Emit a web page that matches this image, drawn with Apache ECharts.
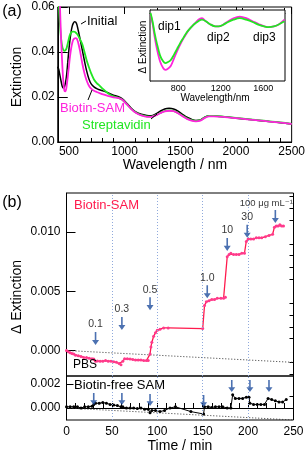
<!DOCTYPE html>
<html><head><meta charset="utf-8">
<script src="https://cdn.jsdelivr.net/npm/echarts@6/dist/echarts.min.js"></script>
<style>html,body{margin:0;padding:0;background:#fff}#c{width:308px;height:454px}</style>
</head><body><div id="c"></div>
<script>
const FONT = '"Liberation Sans", Arial, "DejaVu Sans", sans-serif';
// ---------- Panel (a): extinction spectra ----------
const wavelength = [400,410,420,430,440,450,460,470,480,490,500,510,520,530,540,550,560,570,580,590,600,620,640,660,680,700,725,750,775,800,850,900,940,980,1020,1060,1100,1150,1200,1240,1280,1320,1360,1400,1440,1480,1520,1560,1600,1640,1680,1720,1760,1800,1900,2000,2100,2200,2300,2400,2500];
const extInitial = [0.0335,0.032,0.0295,0.027,0.0248,0.0240,0.0245,0.0265,0.030,0.0355,0.041,0.0455,0.049,0.0515,0.0528,0.0535,0.0533,0.0524,0.0505,0.0482,0.0458,0.041,0.036,0.0315,0.028,0.0258,0.0245,0.0237,0.0232,0.0228,0.0219,0.0208,0.0202,0.0192,0.0172,0.015,0.0134,0.0123,0.0118,0.0117,0.0125,0.0137,0.0147,0.015,0.0147,0.0137,0.0123,0.011,0.0101,0.0096,0.0098,0.011,0.0117,0.0116,0.0112,0.0106,0.0101,0.0096,0.0091,0.0086,0.008];
const extBiotin = [0.09,0.075,0.06,0.046,0.035,0.027,0.0228,0.0225,0.025,0.029,0.0335,0.038,0.0415,0.044,0.0455,0.046,0.0462,0.046,0.0448,0.0428,0.0405,0.035,0.0305,0.0272,0.025,0.0237,0.0228,0.0222,0.0217,0.0213,0.0205,0.0198,0.0196,0.0188,0.0168,0.0146,0.013,0.0118,0.0112,0.0112,0.0118,0.0128,0.0136,0.0139,0.0137,0.0128,0.0115,0.0103,0.0095,0.0092,0.0095,0.0107,0.0114,0.0114,0.0111,0.0106,0.0101,0.0096,0.0091,0.0086,0.008];
const extStrept = [0.075,0.061,0.052,0.046,0.0425,0.041,0.0405,0.0408,0.0418,0.0438,0.046,0.0477,0.0486,0.049,0.0491,0.049,0.0487,0.0482,0.0475,0.0466,0.0456,0.0435,0.040,0.0362,0.0332,0.0305,0.0278,0.0262,0.0251,0.0238,0.0217,0.0203,0.0197,0.0188,0.0168,0.0147,0.0131,0.0119,0.0114,0.0113,0.0119,0.0129,0.0137,0.014,0.0138,0.0129,0.0117,0.0105,0.0097,0.0094,0.0097,0.0109,0.0116,0.0116,0.0112,0.0107,0.0102,0.0097,0.0092,0.0087,0.0081];
const xLabelsA = [500,1000,1500,2000,2500];
const xMinorA = [400,600,700,800,900,1100,1200,1300,1400,1600,1700,1800,1900,2100,2200,2300,2400];
// ---------- Inset: difference spectra ----------
const insetWl = [540,560,580,600,630,660,680,700,730,760,790,820,850,880,910,950,990,1024,1060,1100,1150,1180,1220,1270,1320,1380,1440,1500,1560,1610,1650,1700,1750,1800];
const dExtBiotin = [-0.00013,-0.0015,-0.0033,-0.0048,-0.0065,-0.0074,-0.0076,-0.0075,-0.0071,-0.0061,-0.0051,-0.0042,-0.0034,-0.0027,-0.0021,-0.0015,-0.0009,-0.0007,-0.0011,-0.0015,-0.0018,-0.0018,-0.0016,-0.0011,-0.0007,-0.0005,-0.0007,-0.0011,-0.0015,-0.0018,-0.0019,-0.0018,-0.0015,-0.0009];
const dExtStrept = [0.0000,-0.0012,-0.0028,-0.0041,-0.0057,-0.0065,-0.0067,-0.0066,-0.0063,-0.0056,-0.0048,-0.0040,-0.0033,-0.0026,-0.0021,-0.0015,-0.0011,-0.0009,-0.0011,-0.0015,-0.0018,-0.0018,-0.0016,-0.0012,-0.0009,-0.0007,-0.0009,-0.0012,-0.0016,-0.0018,-0.0019,-0.0018,-0.0015,-0.0011];
const insetXLabels = [800,1200,1600];
const insetXTicks = [600,800,1000,1200,1400,1600,1800];
const insetYTicks = [-0.008,-0.006,-0.004,-0.002,0];
// ---------- Panel (b): time course ----------
const timeBiotin = [0,2,4,6,8,10,13,16,19,22,25,28,30,32,34,37,40,43,46,49,52,55,58,60,62,64,67,70,73,76,79,82,85,88,90,92,93,94,96,98,100,103,107,112,150,152,154,157,160,163,166,170,173,175,177,179,181,184,187,190,193,196,198,200,203,206,209,212,215,219,223,227,229,231,233,235,237,239];
const dExtBiotinSAM = [0,-0.0001,-0.0002,-0.00026,-0.0003,-0.0004,-0.00045,-0.0005,-0.00058,-0.0006,-0.00065,-0.0007,-0.00072,-0.0009,-0.00088,-0.0009,-0.0009,-0.00085,-0.0009,-0.0009,-0.00095,-0.001,-0.0011,-0.0012,-0.0009,-0.0007,-0.0007,-0.00072,-0.00075,-0.0008,-0.0008,-0.0008,-0.00085,-0.00085,-0.00085,-0.0003,0.0003,0.0007,0.0012,0.0015,0.0017,0.0018,0.0019,0.0019,0.00185,0.0038,0.0041,0.0042,0.0043,0.0043,0.0044,0.0044,0.0044,0.0045,0.0079,0.0081,0.0082,0.0081,0.0081,0.0081,0.0082,0.0082,0.0092,0.0094,0.0094,0.0094,0.0095,0.0095,0.0095,0.0096,0.0097,0.0098,0.0104,0.0105,0.0105,0.0106,0.0105,0.0105];
const timeFree = [0,4,8,12,16,20,24,28,30,32,36,40,44,48,52,56,60,62,66,70,74,78,82,86,90,92,94,98,103,108,114,120,137,151,152,156,160,164,168,172,177,181,183,186,190,194,198,201,202,206,210,214,218,222,226,230,234,238,242];
const dExtFree = [0.0001,0.0001,0.0001,0.0001,0.0,0.0001,0.0001,0.00015,0.0003,0.0004,0.0004,0.00045,0.0004,0.0003,0.00025,0.0002,0.0001,0.0001,0.0,0.0,0.0,-0.00005,0.0,-0.0001,-0.0001,-0.0004,-0.0002,-0.0002,-0.0003,-0.0002,0.0,0.0001,-0.0003,-0.0005,0.0001,0.0001,0.00005,0.0001,0.0001,0.0001,0.0,0.0,0.0011,0.0008,0.0008,0.0008,0.0009,0.0009,0.0004,0.0003,0.0003,0.0003,0.0003,0.0008,0.0007,0.0006,0.0005,0.0005,0.0007];
const driftTime = [0,250];
const driftUpper = [0,-0.001];
const driftLower = [0,-0.001];
const gridTimes = [50,100,150,200];
const arrowTimesUpper = [32,61,92,155,177,199,230];
const arrowTipsUpper = [0.00046,0.00173,0.0034,0.0044,0.0084,0.0095,0.01075];
const arrowLabels = ['0.1','0.3','0.5','1.0','10','30','100 μg mL⁻¹'];
const arrowTimesLower = [30,61,92,151,182,202,223];
const arrowTipsLower = [0.00025,0.00025,0.00017,0.00008,0.00133,0.00133,0.00133];
const yLabelsUpper = [0,0.005,0.010];
const yMinorUpper = [-0.002,-0.001,0.001,0.002,0.003,0.004,0.006,0.007,0.008,0.009,0.011,0.012,0.013];
const yLabelsLower = [0,0.002];
const yMinorLower = [0.001];
const xLabelsB = [0,50,100,150,200,250];

const MAG = '#ff22dd', GRN = '#22e622', RED = '#ff1a4d', BLUE = '#1f4e9e';
const lab = {fontFamily: FONT, fontSize: 12, color: '#000'};
function zip(a, b) { return a.map((x, i) => [x, b[i]]); }
const plain = v => String(v);

const ARROW = 'path://M2.7,0H4.3V8.5H7L3.5,14L0,8.5H2.7Z';

const option = {
  animation: false,
  backgroundColor: '#fff',
  grid: [
    {left: 57.75, top: 7, width: 236.25, height: 135, show: true, borderColor: '#000', borderWidth: 1},
    {left: 150, top: 10, width: 135, height: 71, show: true, borderColor: '#000', borderWidth: 1, backgroundColor: '#fff', z: 5},
    {left: 66.5, top: 193, width: 227, height: 183, show: true, borderColor: '#000', borderWidth: 1},
    {left: 66.5, top: 376, width: 227, height: 44, show: true, borderColor: '#000', borderWidth: 1}
  ],
  xAxis: [
    {gridIndex: 0, type: 'value', min: 400, max: 2500, splitLine: {show: false},
     axisLine: {lineStyle: {color: '#000'}},
     axisTick: {inside: true, length: 4, customValues: xMinorA, lineStyle: {color: '#000'}},
     axisLabel: Object.assign({margin: 4, customValues: xLabelsA, formatter: plain}, lab)},
    {gridIndex: 0, type: 'value', min: 400, max: 2500, splitLine: {show: false}, axisLine: {show: false},
     axisTick: {inside: true, length: 7, customValues: xLabelsA, lineStyle: {color: '#000'}},
     axisLabel: {show: false}},
    {gridIndex: 1, type: 'value', min: 535, max: 1805, splitLine: {show: false},
     axisLine: {lineStyle: {color: '#000'}},
     axisTick: {inside: true, length: 5, customValues: insetXTicks, lineStyle: {color: '#000'}},
     axisLabel: {margin: 3, customValues: insetXLabels, formatter: plain, fontFamily: FONT, fontSize: 9, color: '#000'}},
    {gridIndex: 2, type: 'value', min: 0, max: 250, show: false},
    {gridIndex: 3, type: 'value', min: 0, max: 250, interval: 10, splitLine: {show: false},
     axisLine: {lineStyle: {color: '#000'}},
     axisTick: {inside: true, length: 5, lineStyle: {color: '#000'}},
     axisLabel: Object.assign({margin: 6, customValues: xLabelsB, formatter: plain}, lab)}
  ],
  yAxis: [
    {gridIndex: 0, type: 'value', min: 0, max: 0.06, interval: 0.02, splitLine: {show: false},
     axisLine: {show: true, lineStyle: {color: '#000'}},
     axisTick: {show: true, inside: true, length: 10, lineStyle: {color: '#000'}},
     axisLabel: Object.assign({margin: 3, formatter: v => v.toFixed(2)}, lab)},
    {gridIndex: 1, type: 'value', min: -0.0091, max: 0.0004, splitLine: {show: false},
     axisLine: {show: true, lineStyle: {color: '#000'}},
     axisTick: {show: true, inside: true, length: 5, customValues: insetYTicks, lineStyle: {color: '#000'}},
     axisLabel: {show: false}},
    {gridIndex: 2, type: 'value', min: -0.00215, max: 0.01328, splitLine: {show: false},
     axisLine: {show: true, lineStyle: {color: '#000'}},
     axisTick: {show: true, inside: true, length: 9, customValues: yLabelsUpper, lineStyle: {color: '#000'}},
     axisLabel: Object.assign({margin: 6, customValues: yLabelsUpper, formatter: v => v.toFixed(3)}, lab)},
    {gridIndex: 2, type: 'value', min: -0.00215, max: 0.01328, splitLine: {show: false}, axisLine: {show: false},
     axisTick: {show: true, inside: true, length: 4, customValues: yMinorUpper, lineStyle: {color: '#000'}},
     axisLabel: {show: false}},
    {gridIndex: 3, type: 'value', min: -0.001, max: 0.00267, splitLine: {show: false},
     axisLine: {show: true, lineStyle: {color: '#000'}},
     axisTick: {show: true, inside: true, length: 7, customValues: yLabelsLower, lineStyle: {color: '#000'}},
     axisLabel: Object.assign({margin: 6, customValues: yLabelsLower, formatter: v => v.toFixed(3)}, lab)},
    {gridIndex: 3, type: 'value', min: -0.001, max: 0.00267, splitLine: {show: false}, axisLine: {show: false},
     axisTick: {show: true, inside: true, length: 4, customValues: yMinorLower, lineStyle: {color: '#000'}},
     axisLabel: {show: false}}
  ],
  series: [
    {type: 'line', xAxisIndex: 0, yAxisIndex: 0, data: zip(wavelength, extInitial), smooth: 0.3, showSymbol: false, lineStyle: {color: '#000', width: 1.5}, z: 3},
    {type: 'line', xAxisIndex: 0, yAxisIndex: 0, data: zip(wavelength, extStrept), smooth: 0.3, showSymbol: false, lineStyle: {color: GRN, width: 1.8}, z: 3},
    {type: 'line', xAxisIndex: 0, yAxisIndex: 0, data: zip(wavelength, extBiotin), smooth: 0.3, showSymbol: false, lineStyle: {color: MAG, width: 1.8}, z: 3},
    {type: 'line', xAxisIndex: 2, yAxisIndex: 1, data: zip(insetWl, dExtBiotin), smooth: 0.3, showSymbol: false, lineStyle: {color: MAG, width: 1.8}, z: 6},
    {type: 'line', xAxisIndex: 2, yAxisIndex: 1, data: zip(insetWl, dExtStrept), smooth: 0.3, showSymbol: false, lineStyle: {color: GRN, width: 1.8}, z: 6},
    {type: 'line', xAxisIndex: 3, yAxisIndex: 2, data: zip(driftTime, driftUpper), showSymbol: false,
     lineStyle: {color: '#333', width: 1, type: [1, 2]},
     markLine: {silent: true, symbol: 'none', label: {show: false}, lineStyle: {color: '#8fa9dc', width: 1, type: [1, 2]},
       data: gridTimes.map(t => ({xAxis: t}))}},
    {type: 'line', xAxisIndex: 4, yAxisIndex: 4, data: zip(driftTime, driftLower), showSymbol: false,
     lineStyle: {color: '#333', width: 1, type: [1, 2]},
     markLine: {silent: true, symbol: 'none', label: {show: false}, lineStyle: {color: '#8fa9dc', width: 1, type: [1, 2]},
       data: gridTimes.map(t => ({xAxis: t}))}},
    {type: 'line', xAxisIndex: 3, yAxisIndex: 2, data: zip(timeBiotin, dExtBiotinSAM), symbol: 'circle', symbolSize: 3, showSymbol: true,
     lineStyle: {color: RED, width: 1.3}, itemStyle: {color: '#ff3a8c'}, z: 4},
    {type: 'line', xAxisIndex: 4, yAxisIndex: 4, data: zip(timeFree, dExtFree), symbol: 'circle', symbolSize: 3, showSymbol: true,
     lineStyle: {color: '#000', width: 1}, itemStyle: {color: '#000'}, z: 4},
    {type: 'scatter', xAxisIndex: 3, yAxisIndex: 2, symbol: ARROW, symbolSize: [7, 13], symbolOffset: [0, '-50%'],
     itemStyle: {color: BLUE}, z: 6,
     label: {show: true, position: 'top', distance: 2, fontFamily: FONT, fontSize: 10.5, color: '#000'},
     data: arrowTimesUpper.map((t, i) => ({value: [t, arrowTipsUpper[i]],
       label: {show: true, formatter: arrowLabels[i], fontSize: i === 6 ? 9.5 : 10.5, offset: i === 6 ? [-9, 0] : [0, 0]}}))},
    {type: 'scatter', xAxisIndex: 4, yAxisIndex: 4, symbol: ARROW, symbolSize: [7, 12], symbolOffset: [0, '-50%'],
     itemStyle: {color: BLUE}, z: 6,
     data: arrowTimesLower.map((t, i) => [t, arrowTipsLower[i]])}
  ],
  graphic: [
    {type: 'text', x: 12, y: 12, style: {text: '(a)', fontFamily: FONT, fontSize: 16, fill: '#000', align: 'center', verticalAlign: 'middle'}},
    {type: 'text', x: 12, y: 203, style: {text: '(b)', fontFamily: FONT, fontSize: 16, fill: '#000', align: 'center', verticalAlign: 'middle'}},
    {type: 'text', x: 17, y: 77, rotation: Math.PI / 2, style: {text: 'Extinction', fontFamily: FONT, fontSize: 14, fill: '#000', align: 'center', verticalAlign: 'middle'}},
    {type: 'text', x: 175, y: 165, style: {text: 'Wavelength / nm', fontFamily: FONT, fontSize: 14, fill: '#000', align: 'center', verticalAlign: 'middle'}},
    {type: 'text', x: 17, y: 297, rotation: Math.PI / 2, style: {text: 'Δ Extinction', fontFamily: FONT, fontSize: 14, fill: '#000', align: 'center', verticalAlign: 'middle'}},
    {type: 'text', x: 180, y: 446, style: {text: 'Time / min', fontFamily: FONT, fontSize: 14, fill: '#000', align: 'center', verticalAlign: 'middle'}},
    {type: 'text', x: 143, y: 47, z: 10, rotation: Math.PI / 2, style: {text: 'Δ Extinction', fontFamily: FONT, fontSize: 10, fill: '#000', align: 'center', verticalAlign: 'middle'}},
    {type: 'text', x: 215, y: 98, z: 10, style: {text: 'Wavelength/nm', fontFamily: FONT, fontSize: 10, fill: '#000', align: 'center', verticalAlign: 'middle'}},
    {type: 'text', x: 158, y: 27, z: 10, style: {text: 'dip1', fontFamily: FONT, fontSize: 12, fill: '#000', align: 'left', verticalAlign: 'middle'}},
    {type: 'text', x: 207, y: 38, z: 10, style: {text: 'dip2', fontFamily: FONT, fontSize: 12, fill: '#000', align: 'left', verticalAlign: 'middle'}},
    {type: 'text', x: 253, y: 38, z: 10, style: {text: 'dip3', fontFamily: FONT, fontSize: 12, fill: '#000', align: 'left', verticalAlign: 'middle'}},
    {type: 'text', x: 87, y: 21, z: 10, style: {text: 'Initial', fontFamily: FONT, fontSize: 13, fill: '#000', align: 'left', verticalAlign: 'middle'}},
    {type: 'line', z: 10, shape: {x1: 81, y1: 24, x2: 86, y2: 21}, style: {stroke: '#000', lineWidth: 1}},
    {type: 'text', x: 60, y: 108, z: 10, style: {text: 'Biotin-SAM', fontFamily: FONT, fontSize: 13, fill: MAG, align: 'left', verticalAlign: 'middle'}},
    {type: 'line', z: 10, shape: {x1: 88, y1: 100, x2: 92, y2: 90}, style: {stroke: '#000', lineWidth: 1}},
    {type: 'text', x: 82, y: 125, z: 10, style: {text: 'Streptavidin', fontFamily: FONT, fontSize: 13, fill: GRN, align: 'left', verticalAlign: 'middle'}},
    {type: 'line', z: 10, shape: {x1: 151, y1: 119, x2: 157, y2: 114}, style: {stroke: '#000', lineWidth: 1}},
    {type: 'text', x: 74, y: 205, z: 10, style: {text: 'Biotin-SAM', fontFamily: FONT, fontSize: 13, fill: RED, align: 'left', verticalAlign: 'middle'}},
    {type: 'text', x: 73, y: 365, z: 10, style: {text: 'PBS', fontFamily: FONT, fontSize: 12, fill: '#000', align: 'left', verticalAlign: 'middle'}},
    {type: 'text', x: 74, y: 385, z: 10, style: {text: 'Biotin-free SAM', fontFamily: FONT, fontSize: 13, fill: '#000', align: 'left', verticalAlign: 'middle'}}
  ]
};
const chart = echarts.init(document.getElementById('c'));
chart.setOption(option);
</script></body></html>
